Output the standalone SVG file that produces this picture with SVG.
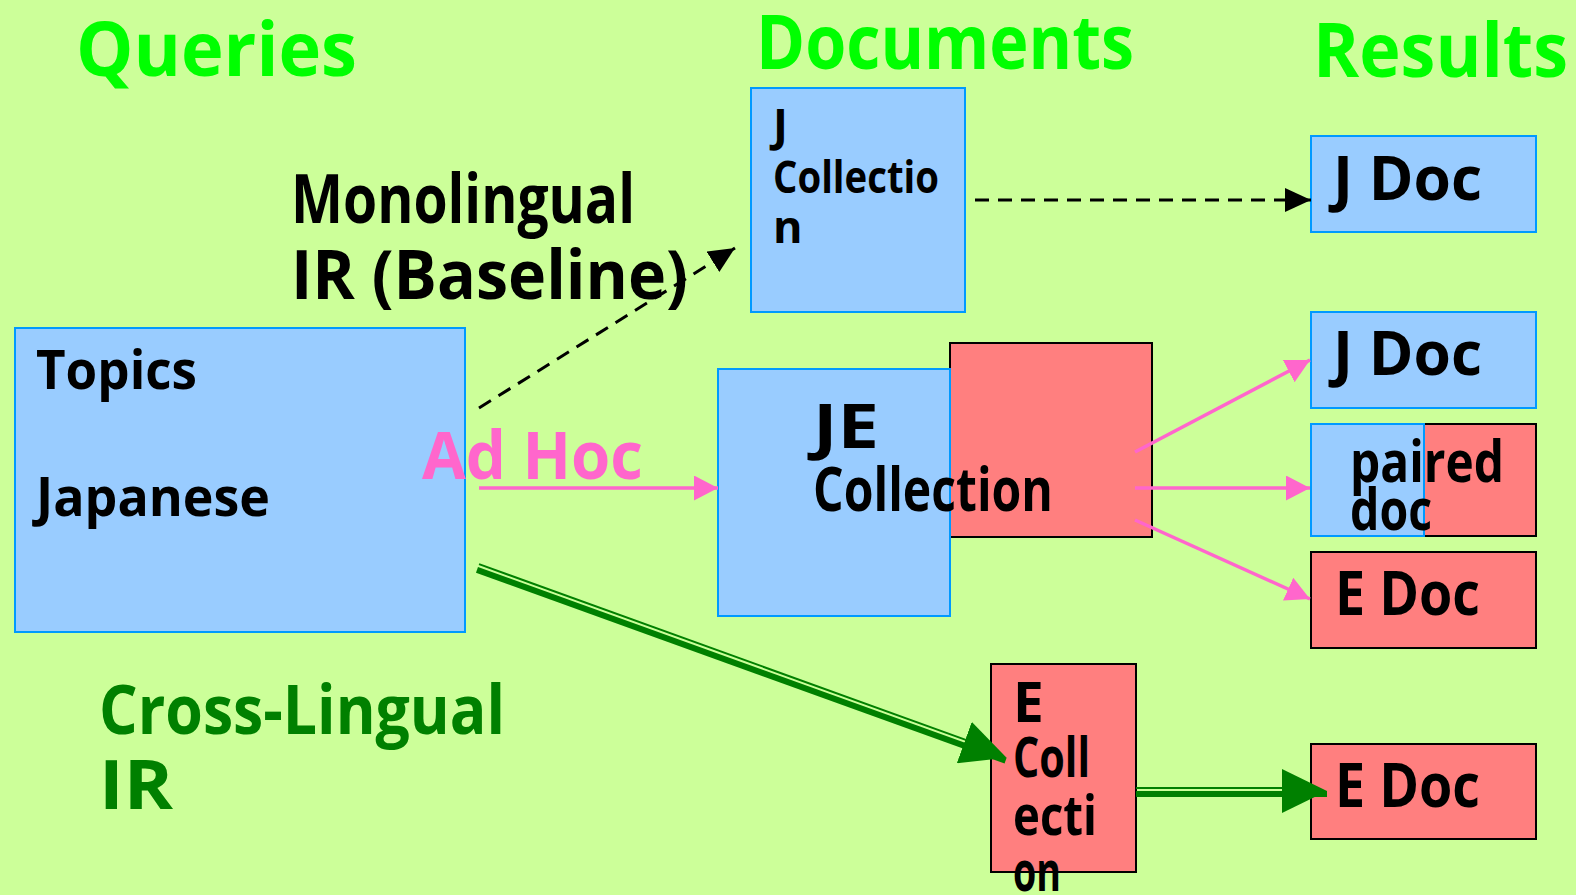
<svg xmlns="http://www.w3.org/2000/svg" width="1576" height="895" viewBox="0 0 1576 895">
  <defs>
    <style>
      text { font-family: "Comic Sans MS", "Open Sans", "DejaVu Sans", sans-serif; font-weight: bold; fill: #000; }
      .title { font-size: 76px; fill: #00FF00; }
      .label { font-size: 68px; }
      .xl { fill: #008000; }
      .jbox { fill: #99CCFF; stroke: #0099FF; stroke-width: 2; }
      .ebox { fill: #FF7F7F; stroke: #000; stroke-width: 2; }
      .pink { stroke: #FF66CC; stroke-width: 3.5; fill: none; }
      .dash { stroke: #000; stroke-width: 3; fill: none; stroke-dasharray: 14 9; }
      .green-thin { stroke: #008000; stroke-width: 2; fill: none; }
      .green-thick { stroke: #008000; stroke-width: 6; fill: none; }
    </style>
    <marker id="head-pink" markerUnits="userSpaceOnUse" viewBox="0 0 24 25" refX="24" refY="12.5" markerWidth="24" markerHeight="25" orient="auto">
      <path d="M0,0 L24,12.5 L0,25 z" fill="#FF66CC"/>
    </marker>
    <marker id="head-black" markerUnits="userSpaceOnUse" viewBox="0 0 26 24" refX="26" refY="12" markerWidth="26" markerHeight="24" orient="auto">
      <path d="M0,0 L26,12 L0,24 z" fill="#000"/>
    </marker>
    <marker id="head-green" markerUnits="userSpaceOnUse" viewBox="0 0 45 44" refX="45" refY="25" markerWidth="45" markerHeight="44" orient="auto">
      <path d="M0,0 L45,22 L0,44 z" fill="#008000"/>
    </marker>
  </defs>

  <rect width="1576" height="895" fill="#CCFF99"/>

  <!-- column headings -->
  <text class="title" x="76" y="76" textLength="281" lengthAdjust="spacingAndGlyphs">Queries</text>
  <text class="title" x="756" y="69" textLength="378" lengthAdjust="spacingAndGlyphs">Documents</text>
  <text class="title" x="1313" y="77" textLength="255" lengthAdjust="spacingAndGlyphs">Results</text>

  <!-- route labels -->
  <g id="label-mono">
    <text class="label" x="291" y="223" font-size="70" textLength="344" lengthAdjust="spacingAndGlyphs">Monolingual</text>
    <text class="label" x="291" y="299" font-size="70" textLength="397" lengthAdjust="spacingAndGlyphs">IR (Baseline)</text>
  </g>
  <g id="label-cross">
    <text class="label xl" x="99" y="734" textLength="406" lengthAdjust="spacingAndGlyphs">Cross-Lingual</text>
    <text class="label xl" x="99" y="809" textLength="74" lengthAdjust="spacingAndGlyphs">IR</text>
  </g>

  <!-- query topics -->
  <g id="topics">
    <rect class="jbox" x="15" y="328" width="450" height="304"/>
    <text x="36" y="389" font-size="53" textLength="161" lengthAdjust="spacingAndGlyphs">Topics</text>
    <text x="36" y="516" font-size="53" textLength="234" lengthAdjust="spacingAndGlyphs">Japanese</text>
  </g>

  <!-- document collections -->
  <g id="j-collection">
    <rect class="jbox" x="751" y="88" width="214" height="224"/>
    <text x="773" y="141" font-size="45">J</text>
    <text x="773" y="193" font-size="45" textLength="166" lengthAdjust="spacingAndGlyphs">Collectio</text>
    <text x="773" y="243" font-size="45">n</text>
  </g>
  <g id="je-collection">
    <rect class="ebox" x="950" y="343" width="202" height="194"/>
    <rect class="jbox" x="718" y="369" width="232" height="247"/>
    <text x="813" y="448" font-size="60" textLength="66" lengthAdjust="spacingAndGlyphs">JE</text>
    <text x="813" y="511" font-size="60" textLength="240" lengthAdjust="spacingAndGlyphs">Collection</text>
  </g>
  <g id="e-collection">
    <rect class="ebox" x="991" y="664" width="145" height="208"/>
    <text x="1013" y="722" font-size="55">E</text>
    <text x="1013" y="777" font-size="55" textLength="77" lengthAdjust="spacingAndGlyphs">Coll</text>
    <text x="1013" y="835" font-size="55" textLength="84" lengthAdjust="spacingAndGlyphs">ecti</text>
    <text x="1013" y="891" font-size="55" textLength="48" lengthAdjust="spacingAndGlyphs">on</text>
  </g>

  <!-- result lists -->
  <g id="result-j-mono">
    <rect class="jbox" x="1311" y="136" width="225" height="96"/>
    <text x="1333" y="200" font-size="60" textLength="149" lengthAdjust="spacingAndGlyphs">J Doc</text>
  </g>
  <g id="result-j">
    <rect class="jbox" x="1311" y="312" width="225" height="96"/>
    <text x="1333" y="375" font-size="60" textLength="149" lengthAdjust="spacingAndGlyphs">J Doc</text>
  </g>
  <g id="result-paired">
    <rect class="ebox" x="1424" y="424" width="112" height="112"/>
    <rect class="jbox" x="1311" y="424" width="113" height="112"/>
    <text x="1350" y="482" font-size="58" textLength="154" lengthAdjust="spacingAndGlyphs">paired</text>
    <text x="1350" y="530" font-size="58" textLength="82" lengthAdjust="spacingAndGlyphs">doc</text>
  </g>
  <g id="result-e">
    <rect class="ebox" x="1311" y="552" width="225" height="96"/>
    <text x="1335" y="615" font-size="60" textLength="145" lengthAdjust="spacingAndGlyphs">E Doc</text>
  </g>
  <g id="result-e-cross">
    <rect class="ebox" x="1311" y="744" width="225" height="95"/>
    <text x="1335" y="807" font-size="60" textLength="145" lengthAdjust="spacingAndGlyphs">E Doc</text>
  </g>

  <text id="label-adhoc" x="422" y="479" font-size="67" fill="#FF66CC" style="fill:#FF66CC" textLength="221" lengthAdjust="spacingAndGlyphs">Ad Hoc</text>

  <!-- connectors -->
  <g id="connectors">
    <path class="dash" d="M479,408 L735,248" marker-end="url(#head-black)"/>
    <path class="dash" d="M975,200 L1311,200" marker-end="url(#head-black)"/>
    <path class="pink" d="M479,488 L718,488" marker-end="url(#head-pink)"/>
    <path class="pink" d="M1135,452 L1310,360" marker-end="url(#head-pink)"/>
    <path class="pink" d="M1135,488 L1310,488" marker-end="url(#head-pink)"/>
    <path class="pink" d="M1135,520 L1310,599" marker-end="url(#head-pink)"/>
    <g transform="translate(478,567) rotate(19.85)">
      <path class="green-thin" d="M0,-3 L530,-3"/>
      <path class="green-thick" d="M0,3 L562,3" marker-end="url(#head-green)"/>
    </g>
    <g transform="translate(1136,791)">
      <path class="green-thin" d="M0,-3 L165,-3"/>
      <path class="green-thick" d="M0,3 L191,3" marker-end="url(#head-green)"/>
    </g>
  </g>
</svg>
